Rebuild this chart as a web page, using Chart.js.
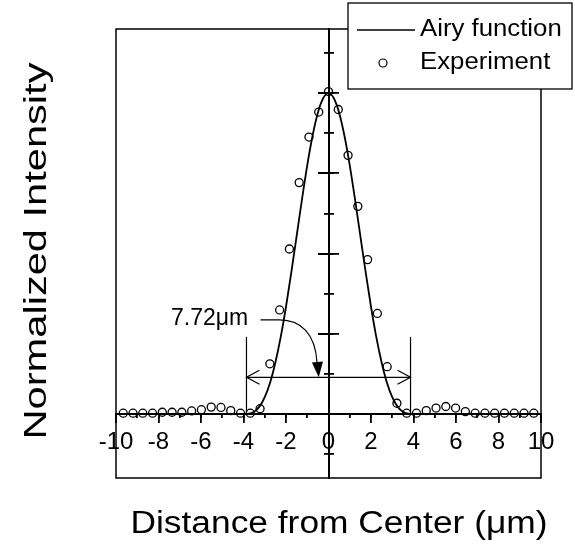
<!DOCTYPE html>
<html><head><meta charset="utf-8">
<script src="https://cdn.jsdelivr.net/npm/chart.js@4.4.1/dist/chart.umd.min.js"></script>
<style>html,body{margin:0;padding:0;background:#fff}</style>
</head><body>
<canvas id="c" width="575" height="548"></canvas>
<script>
// ---- data ----
const expX = [-9.66,-9.20,-8.74,-8.28,-7.82,-7.36,-6.90,-6.44,-5.98,-5.52,-5.06,-4.60,-4.14,-3.68,-3.22,-2.76,-2.30,-1.84,-1.38,-0.92,-0.46,0,0.46,0.92,1.38,1.84,2.30,2.76,3.22,3.68,4.14,4.60,5.06,5.52,5.98,6.44,6.90,7.36,7.82,8.28,8.74,9.20,9.66];
const expY = [0.002,0.002,0.002,0.002,0.005,0.005,0.005,0.009,0.013,0.021,0.020,0.010,0.002,0.002,0.016,0.156,0.324,0.514,0.721,0.863,0.941,1.005,0.949,0.806,0.647,0.481,0.313,0.147,0.033,0.002,0.002,0.010,0.018,0.023,0.018,0.007,0.002,0.002,0.002,0.002,0.002,0.002,0.002];
const airyX = [-3.86,-3.75,-3.5,-3.25,-3,-2.75,-2.5,-2.25,-2,-1.75,-1.5,-1.25,-1,-0.75,-0.5,-0.25,0,0.25,0.5,0.75,1,1.25,1.5,1.75,2,2.25,2.5,2.75,3,3.25,3.5,3.75,3.86];
const airyY = [0,0.0006,0.0065,0.0225,0.052,0.097,0.160,0.239,0.334,0.441,0.554,0.668,0.775,0.867,0.939,0.984,1,0.984,0.939,0.867,0.775,0.668,0.554,0.441,0.334,0.239,0.160,0.097,0.052,0.0225,0.0065,0.0006,0];
const xTickStep = 2, xMinorStep = 1, yTickStep = 0.25, yMinorStep = 0.125;
const yMin = -0.2, yMax = 1.2, xMin = -10, xMax = 10;
const legendLabels = ['Airy function', 'Experiment'];
const xTitle = 'Distance from Center (\u03BCm)';
const yTitle = 'Normalized Intensity';
const widthLabel = '7.72\u03BCm';
const widthHalf = 3.86;

const FONT = '"Liberation Sans", Arial, Helvetica, sans-serif';

function txt(ctx, text, x, y, size, sx, align, rot) {
  ctx.save();
  ctx.translate(x, y);
  if (rot) ctx.rotate(rot);
  ctx.scale(sx, 1);
  ctx.font = size + 'px ' + FONT;
  ctx.textAlign = align; ctx.textBaseline = 'middle';
  ctx.fillStyle = '#000';
  ctx.fillText(text, 0, 0);
  ctx.restore();
}

const decor = {
  id: 'decor',
  beforeDatasetsDraw(chart) {
    const {ctx, chartArea: a} = chart;
    ctx.save();
    ctx.strokeStyle = '#000'; ctx.lineWidth = 1.5;
    ctx.strokeRect(a.left, a.top, a.right - a.left, a.bottom - a.top);
    ctx.restore();
  },
  afterDatasetsDraw(chart) {
    const {ctx} = chart;
    const xs = chart.scales.x, ys = chart.scales.y;
    const px = v => xs.getPixelForValue(v), py = v => ys.getPixelForValue(v);
    ctx.save();
    ctx.strokeStyle = '#000'; ctx.fillStyle = '#000'; ctx.lineWidth = 1.2;
    [-widthHalf, widthHalf].forEach(v => {
      ctx.beginPath(); ctx.moveTo(px(v), py(0)); ctx.lineTo(px(v), py(0.24)); ctx.stroke();
    });
    const ya = py(0.114), xl = px(-widthHalf), xr = px(widthHalf);
    ctx.beginPath(); ctx.moveTo(xl, ya); ctx.lineTo(xr, ya); ctx.stroke();
    ctx.beginPath();
    ctx.moveTo(xl + 13, ya - 7); ctx.lineTo(xl, ya); ctx.lineTo(xl + 13, ya + 7);
    ctx.moveTo(xr - 13, ya - 7); ctx.lineTo(xr, ya); ctx.lineTo(xr - 13, ya + 7);
    ctx.stroke();
    txt(ctx, widthLabel, px(-3.78), py(0.296), 23, 1, 'right', 0);
    ctx.beginPath();
    ctx.moveTo(px(-3.2), py(0.293));
    ctx.lineTo(px(-2.3), py(0.293));
    ctx.bezierCurveTo(px(-1.3), py(0.293), px(-0.62), py(0.25), px(-0.54), py(0.16));
    ctx.stroke();
    ctx.beginPath();
    ctx.moveTo(px(-0.46), py(0.114));
    ctx.lineTo(px(-0.78), py(0.16));
    ctx.lineTo(px(-0.26), py(0.163));
    ctx.closePath(); ctx.fill();
    ctx.restore();
  },
  afterDraw(chart) {
    const {ctx} = chart;
    txt(ctx, xTitle, 339, 524, 31, 1.14, 'center', 0);
    txt(ctx, yTitle, 37, 251, 32, 1.3, 'center', -Math.PI / 2);
    ctx.save();
    ctx.fillStyle = '#fff'; ctx.strokeStyle = '#000'; ctx.lineWidth = 1.3;
    ctx.fillRect(348, 3, 224, 86); ctx.strokeRect(348, 3, 224, 86);
    ctx.beginPath(); ctx.moveTo(357, 30); ctx.lineTo(415, 30); ctx.stroke();
    ctx.lineWidth = 1.2;
    ctx.beginPath(); ctx.arc(383, 63, 4, 0, Math.PI * 2); ctx.stroke();
    ctx.restore();
    txt(ctx, legendLabels[0], 420, 30, 23, 1.12, 'left', 0);
    txt(ctx, legendLabels[1], 420, 63, 23, 1.12, 'left', 0);
  }
};

const tickFont = {family: FONT, size: 24};
function noFit(s) { if (s.isHorizontal()) s.height = 0; else s.width = 0; }
function edgeless(ctx) {
  const v = ctx.tick ? ctx.tick.value : null;
  return (v !== null && (Math.abs(v - yMin) < 1e-9 || Math.abs(v - yMax) < 1e-9)) ? 'rgba(0,0,0,0)' : '#000';
}
function minorAxis(pos, step, len, min, max, extra) {
  return Object.assign({
    type: 'linear', min, max, position: pos,
    ticks: {stepSize: step, display: false, autoSkip: false},
    grid: {drawOnChartArea: false, drawTicks: true, tickLength: len, color: '#000', tickColor: edgeless, lineWidth: 1.8},
    border: {display: false}, afterFit: noFit
  }, extra || {});
}

new Chart(document.getElementById('c'), {
  type: 'scatter',
  data: {
    datasets: [
      {
        label: legendLabels[0],
        data: airyX.map((x, i) => ({x, y: airyY[i]})),
        showLine: true, borderColor: '#000', borderWidth: 1.8,
        pointRadius: 0, cubicInterpolationMode: 'monotone', fill: false, order: 2
      },
      {
        label: legendLabels[1],
        data: expX.map((x, i) => ({x, y: expY[i]})),
        showLine: false, pointRadius: 4, pointBorderWidth: 1.3,
        pointBorderColor: '#000', pointBackgroundColor: 'rgba(255,255,255,0)', order: 1
      }
    ]
  },
  options: {
    responsive: false, animation: false, devicePixelRatio: 1,
    layout: {padding: {left: 116, right: 34, top: 29, bottom: 70}},
    plugins: {legend: {display: false}, tooltip: {enabled: false}},
    scales: {
      x: {
        type: 'linear', min: xMin, max: xMax, position: {y: 0},
        ticks: {stepSize: xTickStep, autoSkip: false, maxRotation: 0, color: '#000', font: tickFont, padding: 6},
        grid: {drawOnChartArea: false, drawTicks: true, tickLength: 8, color: '#000', lineWidth: 1.8},
        border: {display: true, color: '#000', width: 2}, afterFit: noFit
      },
      xm: minorAxis({y: 0}, xMinorStep, 4, xMin, xMax, {axis: 'x'}),
      y: {
        type: 'linear', min: yMin, max: yMax, position: {x: 0},
        ticks: {stepSize: yTickStep, display: false, autoSkip: false},
        grid: {drawOnChartArea: false, drawTicks: true, tickLength: 10, color: '#000', tickColor: edgeless, lineWidth: 2},
        border: {display: true, color: '#000', width: 2}, afterFit: noFit
      },
      yr: minorAxis({x: 0}, yTickStep, -10, yMin, yMax, {axis: 'y'}),
      ym: minorAxis({x: 0}, yMinorStep, 5, yMin, yMax, {axis: 'y'}),
      ymr: minorAxis({x: 0}, yMinorStep, -5, yMin, yMax, {axis: 'y'})
    }
  },
  plugins: [decor]
});
</script>
</body></html>
